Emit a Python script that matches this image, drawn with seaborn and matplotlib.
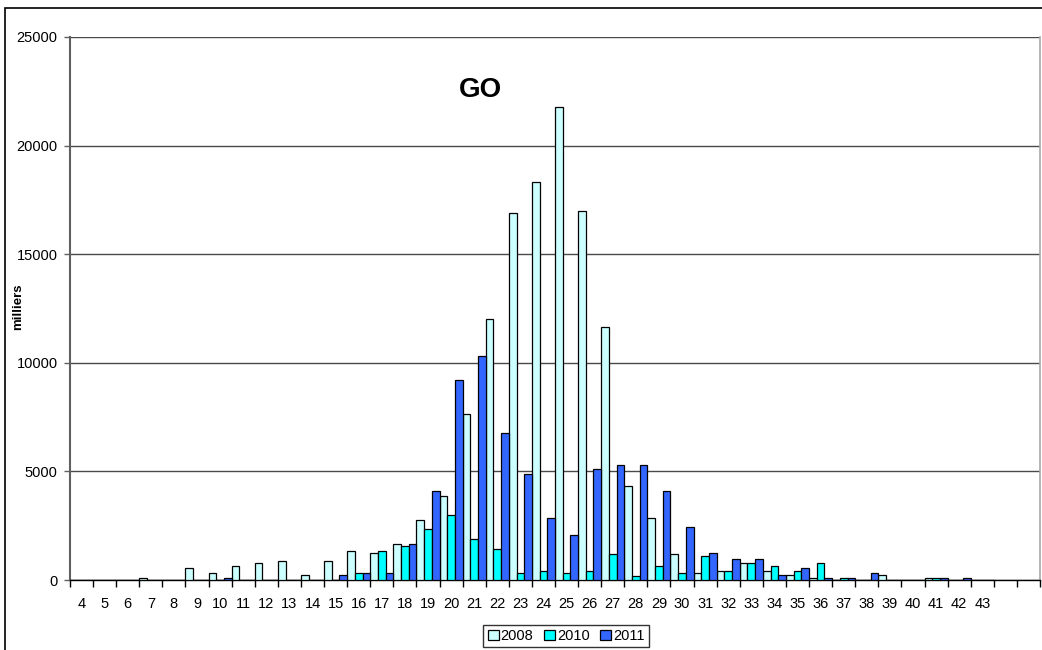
import numpy as np
import pandas as pd
import matplotlib
matplotlib.use("Agg")
import matplotlib.pyplot as plt
from matplotlib.patches import Rectangle
import seaborn as sns

categories = [str(c) for c in range(4, 44)]
years = ["2008", "2010", "2011"]
v2008 = [0, 0, 0, 100, 0, 550, 320, 660, 770, 890, 210, 890, 1330, 1230, 1670, 2780,
         3880, 7660, 12000, 16900, 18340, 21780, 16990, 11660, 4340, 2870, 1210, 310,
         430, 770, 430, 210, 100, 0, 0, 210, 0, 100, 0, 0]
v2010 = [0, 0, 0, 0, 0, 0, 0, 0, 0, 0, 0, 0, 310, 1330, 1550, 2330,
         2980, 1870, 1430, 310, 430, 310, 430, 1210, 200, 660, 310, 1100,
         430, 770, 660, 430, 770, 100, 0, 0, 0, 100, 0, 0]
v2011 = [0, 0, 0, 0, 0, 0, 100, 0, 0, 0, 0, 210, 310, 310, 1670, 4100,
         9220, 10330, 6770, 4870, 2870, 2090, 5100, 5310, 5310, 4100, 2430, 1230,
         980, 980, 210, 540, 100, 100, 320, 0, 0, 100, 100, 0]
colors = ["#CCFFFF", "#00FFFF", "#3366FF"]
yticks = [0, 5000, 10000, 15000, 20000, 25000]

df = pd.DataFrame({
    "cat": categories * 3,
    "year": sum([[y] * len(categories) for y in years], []),
    "val": v2008 + v2010 + v2011,
})

sns.set_style("white")
plt.rcParams["font.family"] = ["Liberation Sans", "DejaVu Sans"]
plt.rcParams["text.color"] = "black"
plt.rcParams["xtick.color"] = "black"
plt.rcParams["ytick.color"] = "black"
plt.rcParams["axes.labelcolor"] = "black"

W, H = 1042, 650
fig = plt.figure(figsize=(W / 100, H / 100), dpi=100)
ax = fig.add_axes([70 / W, 1 - 580 / H, (1040 - 70) / W, (580 - 37) / H])

sns.barplot(data=df, x="cat", y="val", hue="year", order=categories, hue_order=years,
            palette=colors, width=1.0, edgecolor="black", linewidth=0.9,
            saturation=1, ax=ax, legend=True, zorder=3)

handles, labels = ax.get_legend_handles_labels()
ax.get_legend().remove()

ax.set_xlim(-0.5, 41.5)
ax.set_ylim(0, 25000)
ax.set_yticks(yticks)
ax.set_yticklabels([str(t) for t in yticks], fontsize=10.5, color="black")
ax.set_xticks(range(len(categories)))
ax.set_xticklabels(categories, fontsize=10.5, color="black")
ax.set_xticks(np.arange(-0.5, 42, 1), minor=True)
ax.tick_params(axis="x", which="major", length=0, pad=12)
ax.tick_params(axis="x", which="minor", length=5, width=1, color="black", direction="out", bottom=True)
ax.tick_params(axis="y", length=4, width=1, color="#606060", direction="out", left=True, pad=5)

ax.yaxis.grid(True, color="#4a4a4a", linewidth=1, zorder=0)
ax.xaxis.grid(False)
ax.set_axisbelow(True)

ax.spines["top"].set_visible(False)
ax.spines["right"].set_color("#a8a8a8")
ax.spines["right"].set_linewidth(1.2)
ax.spines["left"].set_color("#606060")
ax.spines["left"].set_linewidth(1.5)
ax.spines["bottom"].set_color("black")
ax.spines["bottom"].set_linewidth(1)
ax.set_xlabel("")
ax.set_ylabel("")

fig.text(18 / W, 1 - 307 / H, "milliers", rotation=90, fontsize=9.5, fontweight="bold",
         ha="center", va="center", color="black")
ax.text((480 - 70) / 970, (580 - 90) / 543, "GO", transform=ax.transAxes,
        fontsize=20, fontweight="bold", ha="center", va="center", color="black")

leg = fig.legend(handles, labels, loc="center", bbox_to_anchor=(566 / W, 1 - 636 / H),
                 ncol=3, fontsize=10.5, frameon=True, fancybox=False, handlelength=0.75,
                 handleheight=0.75, handletextpad=0.15, columnspacing=0.7,
                 borderpad=0.3, borderaxespad=0)
leg.get_frame().set_edgecolor("black")
leg.get_frame().set_linewidth(1)
for t in leg.get_texts():
    t.set_color("black")

fig.patches.append(Rectangle((5 / W, -0.1), 1.2, 1.1 - 8 / H, transform=fig.transFigure,
                             fill=False, edgecolor="black", linewidth=1.2, figure=fig))

fig.savefig("out.png", dpi=100)
